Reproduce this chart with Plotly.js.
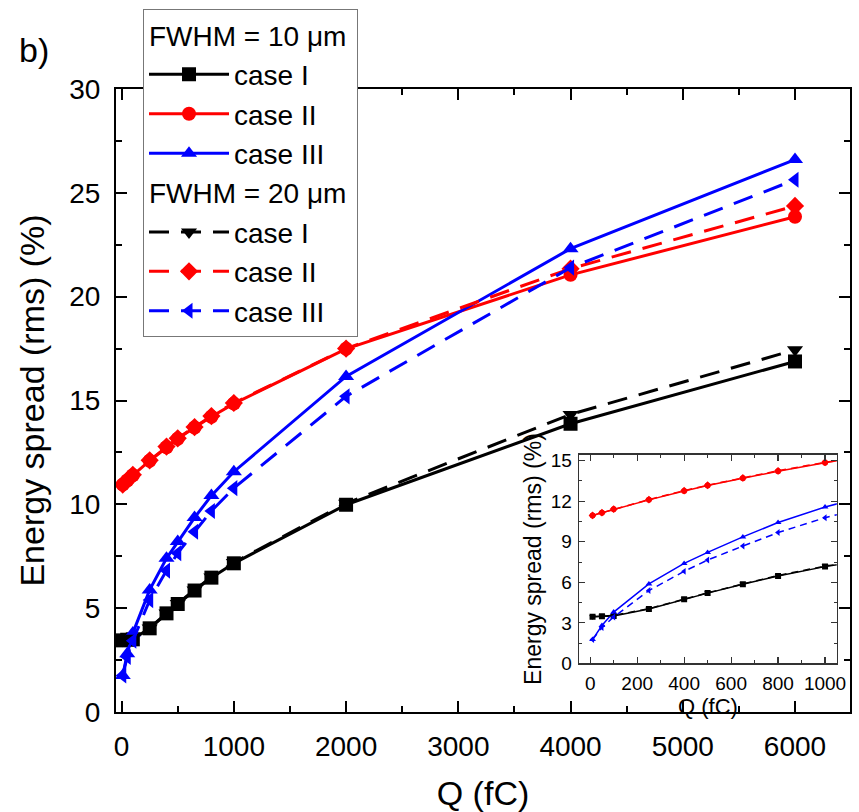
<!DOCTYPE html>
<html>
<head>
<meta charset="utf-8">
<script src="https://cdn.plot.ly/plotly-3.0.1.min.js"></script>
<style>html,body{margin:0;padding:0;background:#fff;}#chart{width:859px;height:812px;}</style>
</head>
<body>
<div id="chart"></div>
<script>
// Data
const Q = [10, 50, 100, 250, 400, 500, 650, 800, 1000, 2000, 4000, 6000];
const case1_10 = [3.45, 3.48, 3.5, 4.03, 4.75, 5.2, 5.85, 6.47, 7.16, 9.98, 13.88, 16.88];
const case2_10 = [10.95, 11.15, 11.4, 12.1, 12.75, 13.16, 13.7, 14.22, 14.85, 17.49, 21.05, 23.85];
const case3_10 = [1.76, 2.8, 3.8, 5.88, 7.4, 8.21, 9.36, 10.42, 11.57, 16.16, 22.31, 26.6];
const case1_20 = [3.45, 3.5, 3.55, 4.05, 4.77, 5.22, 5.88, 6.5, 7.2, 10.05, 14.33, 17.44];
const case2_20 = [10.95, 11.15, 11.42, 12.12, 12.78, 13.18, 13.72, 14.25, 14.88, 17.5, 21.35, 24.37];
const case3_20 = [1.76, 2.65, 3.43, 5.39, 6.81, 7.65, 8.68, 9.68, 10.78, 15.2, 21.4, 25.63];
const seriesNames = ['case I', 'case II', 'case III'];
const groupTitles = ['FWHM = 10 \u03bcm', 'FWHM = 20 \u03bcm'];

const FONT = 'Liberation Sans, Arial, sans-serif';
const colors = ['#000000', '#ff0000', '#0000ff'];
const sym10 = ['square', 'circle', 'triangle-up'];
const sym20 = ['triangle-down', 'diamond', 'triangle-left'];
const set10 = [case1_10, case2_10, case3_10];
const set20 = [case1_20, case2_20, case3_20];

const traces = [];
// main traces
[set10, set20].forEach((set, g) => {
  set.forEach((ys, i) => {
    traces.push({
      x: Q, y: ys, type: 'scatter', mode: 'lines+markers',
      name: seriesNames[i],
      legendgroup: 'g' + g,
      legendgrouptitle: {text: groupTitles[g], font: {family: FONT, size: 28, color: '#000'}},
      line: {color: colors[i], width: 3, dash: g === 0 ? 'solid' : '20px,12px'},
      marker: {color: colors[i], size: 14, symbol: (g === 0 ? sym10 : sym20)[i]},
      xaxis: 'x', yaxis: 'y'
    });
  });
});
// inset traces
[set10, set20].forEach((set, g) => {
  set.forEach((ys, i) => {
    traces.push({
      x: Q, y: ys, type: 'scatter', mode: 'lines+markers',
      showlegend: false,
      line: {color: colors[i], width: 1.5, dash: g === 0 ? 'solid' : '7px,5px'},
      marker: {color: colors[i], size: 6, symbol: (g === 0 ? sym10 : sym20)[i]},
      xaxis: 'x2', yaxis: 'y2'
    });
  });
});

const layout = {
  width: 859, height: 812,
  margin: {l: 116, r: 9, t: 86, b: 100},
  paper_bgcolor: '#fff', plot_bgcolor: '#fff',
  font: {family: FONT, color: '#000'},
  showlegend: true,
  xaxis: {
    domain: [0, 1], range: [-50, 6490], dtick: 1000, tick0: 0,
    showline: true, linewidth: 2, linecolor: '#000', mirror: 'ticks',
    ticks: 'inside', ticklen: 11, tickwidth: 2, tickcolor: '#000',
    minor: {dtick: 500, ticklen: 6, tickwidth: 2, tickcolor: '#000', ticks: 'inside'},
    showgrid: false, zeroline: false,
    tickfont: {family: FONT, size: 28}, ticklabelstandoff: 8,
    title: {text: 'Q (fC)', font: {family: FONT, size: 34}, standoff: 30}
  },
  yaxis: {
    domain: [0, 1], range: [0, 30], dtick: 5, tick0: 0,
    showline: true, linewidth: 2, linecolor: '#000', mirror: 'ticks',
    ticks: 'inside', ticklen: 11, tickwidth: 2, tickcolor: '#000',
    minor: {dtick: 2.5, ticklen: 6, tickwidth: 2, tickcolor: '#000', ticks: 'inside'},
    showgrid: false, zeroline: false,
    tickfont: {family: FONT, size: 28}, ticklabelstandoff: 8,
    title: {text: 'Energy spread (rms) (%)', font: {family: FONT, size: 34}, standoff: 14}
  },
  xaxis2: {
    domain: [0.631, 0.982], anchor: 'y2', range: [-47, 1050], dtick: 200, tick0: 0,
    showline: true, linewidth: 1.5, linecolor: '#333', mirror: 'ticks',
    ticks: 'inside', ticklen: 6, tickwidth: 1.2, tickcolor: '#333',
    minor: {dtick: 100, ticklen: 3, tickwidth: 1, tickcolor: '#333', ticks: 'inside'},
    showgrid: false, zeroline: false,
    tickfont: {family: FONT, size: 19}, ticklabelstandoff: 2,
    title: {text: 'Q (fC)', font: {family: FONT, size: 22}, standoff: 0}
  },
  yaxis2: {
    domain: [0.078, 0.413], anchor: 'x2', range: [0, 15.44], dtick: 3, tick0: 0,
    showline: true, linewidth: 1.5, linecolor: '#333', mirror: 'ticks',
    ticks: 'inside', ticklen: 6, tickwidth: 1.2, tickcolor: '#333',
    minor: {dtick: 1.5, ticklen: 3, tickwidth: 1, tickcolor: '#333', ticks: 'inside'},
    showgrid: false, zeroline: false,
    tickfont: {family: FONT, size: 19}, ticklabelstandoff: 2,
    title: {text: 'Energy spread (rms) (%)', font: {family: FONT, size: 23}, standoff: 2}
  },
  legend: {
    x: 0.0368, y: 1.128, xanchor: 'left', yanchor: 'top',
    bgcolor: '#fff', bordercolor: '#777', borderwidth: 1,
    font: {family: FONT, size: 28, color: '#000'},
    traceorder: 'grouped', tracegroupgap: 0, itemwidth: 80,
    itemclick: false
  },
  annotations: [{
    text: 'b)', xref: 'paper', yref: 'paper', x: -0.135, y: 1.063,
    xanchor: 'left', yanchor: 'middle', showarrow: false,
    font: {family: FONT, size: 34, color: '#000'}
  }]
};

Plotly.newPlot('chart', traces, layout, {displayModeBar: false, staticPlot: true});
</script>
</body>
</html>
